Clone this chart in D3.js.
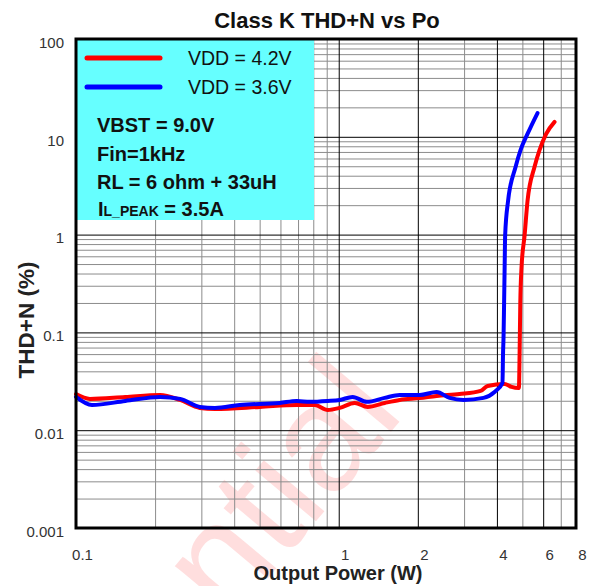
<!DOCTYPE html>
<html>
<head>
<meta charset="utf-8">
<script src="https://cdn.jsdelivr.net/npm/d3@7"></script>
<style>
  html, body { margin: 0; padding: 0; background: #fff; }
  svg { display: block; }
  text { font-family: Arial, "Liberation Sans", sans-serif; }
</style>
</head>
<body>
<svg id="chart" width="595" height="586"></svg>
<script>
// Output power (W) and THD+N (%) for each supply voltage
const powerVdd42 = [0.100, 0.113, 0.154, 0.209, 0.249, 0.296, 0.338, 0.501, 0.692, 0.810, 0.908, 1.009, 1.150, 1.289, 1.496, 1.706, 2.032, 2.359, 2.884, 3.467, 3.686, 4.277, 4.548, 4.85, 4.88, 4.91, 4.96, 5.10, 5.23, 5.56, 5.81, 6.16, 6.63];
const thdVdd42   = [0.0234, 0.0209, 0.0219, 0.0229, 0.0204, 0.0169, 0.0165, 0.0173, 0.0181, 0.0181, 0.0161, 0.0169, 0.0190, 0.0173, 0.0190, 0.0204, 0.0213, 0.0224, 0.0234, 0.0252, 0.0283, 0.0297, 0.0277, 0.0270, 0.06, 0.2, 0.45, 0.99, 2.2, 4.9, 7.3, 10.7, 14.2];

const powerVdd36 = [0.100, 0.115, 0.154, 0.209, 0.249, 0.296, 0.338, 0.420, 0.597, 0.692, 0.776, 0.908, 1.009, 1.130, 1.278, 1.496, 1.706, 2.032, 2.359, 2.643, 2.988, 3.558, 3.919, 4.20, 4.22, 4.24, 4.26, 4.28, 4.30, 4.41, 4.71, 4.92, 5.23, 5.71];
const thdVdd36   = [0.0219, 0.0181, 0.0199, 0.0219, 0.0209, 0.0173, 0.0169, 0.0181, 0.0190, 0.0199, 0.0195, 0.0199, 0.0204, 0.0219, 0.0195, 0.0214, 0.0229, 0.0229, 0.0246, 0.0214, 0.0204, 0.0214, 0.0246, 0.0304, 0.06, 0.092, 0.2, 0.455, 0.99, 2.2, 4.9, 7.3, 10.7, 17.5];

const seriesNames  = ["VDD = 4.2V", "VDD = 3.6V"];
const seriesColors = ["#ff0000", "#0000ff"];

const xTickValues = [0.1, 1, 2, 4, 6, 8];
const xTickLabels = ["0.1", "1", "2", "4", "6", "8"];
const xMajorGrid  = [1, 2, 4, 6];
const xMinorGrid  = [0.2, 0.3, 0.4, 0.5, 0.6, 0.7, 0.8, 0.9, 3, 5, 7];

const yTickValues = [0.001, 0.01, 0.1, 1, 10, 100];
const yTickLabels = ["0.001", "0.01", "0.1", "1", "10", "100"];

const conditions = ["VBST = 9.0V", "Fin=1kHz", "RL = 6 ohm + 33uH"];

// ---- layout ----
const svg = d3.select("#chart");
const plotLeft = 76, plotRight = 576, plotTop = 39, plotBottom = 528;
const plotW = plotRight - plotLeft, plotH = plotBottom - plotTop;

const x = d3.scaleLog().domain([0.1, 8]).range([plotLeft, plotRight]);
const y = d3.scaleLog().domain([0.001, 100]).range([plotBottom, plotTop]);

// y minor grid values: 2..9 within each decade
const yMajorGrid = yTickValues.slice(1, -1);
const yMinorGrid = [];
for (let e = -3; e < 2; e++) for (let k = 2; k <= 9; k++) yMinorGrid.push(k * Math.pow(10, e));

// watermark (behind everything)
svg.append("text")
  .attr("transform", "translate(406,414) rotate(-50)")
  .attr("text-anchor", "end")
  .attr("font-size", 150)
  .attr("fill", "#ff0000")
  .attr("fill-opacity", 0.13)
  .text("Confidential");

// grid lines drawn as tick-only axes
function grid(g, axis, color) {
  g.call(axis);
  g.select(".domain").remove();
  g.selectAll(".tick line").attr("stroke", color).attr("stroke-width", 1);
  g.selectAll(".tick text").remove();
}
svg.append("g").attr("transform", `translate(0,${plotBottom})`)
  .call(g => grid(g, d3.axisBottom(x).tickValues(xMinorGrid).tickSize(-plotH), "#8c8c8c"));
svg.append("g").attr("transform", `translate(${plotLeft},0)`)
  .call(g => grid(g, d3.axisLeft(y).tickValues(yMinorGrid).tickSize(-plotW), "#8c8c8c"));
svg.append("g").attr("transform", `translate(0,${plotBottom})`)
  .call(g => grid(g, d3.axisBottom(x).tickValues(xMajorGrid).tickSize(-plotH), "#000"));
svg.append("g").attr("transform", `translate(${plotLeft},0)`)
  .call(g => grid(g, d3.axisLeft(y).tickValues(yMajorGrid).tickSize(-plotW), "#000"));

// legend / conditions panel
const panel = svg.append("g");
panel.append("rect")
  .attr("x", plotLeft).attr("y", plotTop).attr("width", 238).attr("height", 181)
  .attr("fill", "#66ffff");

// curves
const line = d3.line()
  .x(d => x(d[0])).y(d => y(d[1]))
  .curve(d3.curveMonotoneX);
const series = [
  d3.zip(powerVdd42, thdVdd42),
  d3.zip(powerVdd36, thdVdd36)
];
svg.append("g").selectAll("path").data(series).join("path")
  .attr("d", line)
  .attr("fill", "none")
  .attr("stroke", (d, i) => seriesColors[i])
  .attr("stroke-width", 4)
  .attr("stroke-linejoin", "round")
  .attr("stroke-linecap", "round");

// legend entries
seriesNames.forEach((name, i) => {
  const cy = 58 + i * 29;
  panel.append("line")
    .attr("x1", 87).attr("x2", 160).attr("y1", cy).attr("y2", cy)
    .attr("stroke", seriesColors[i]).attr("stroke-width", 5).attr("stroke-linecap", "round");
  panel.append("text")
    .attr("x", 188).attr("y", cy + 7)
    .attr("font-size", 19.5).attr("fill", "#111")
    .text(name);
});
conditions.forEach((t, i) => {
  panel.append("text")
    .attr("x", 97).attr("y", 132 + i * 28.5)
    .attr("font-size", 20).attr("font-weight", "bold").attr("fill", "#111")
    .text(t);
});
const peak = panel.append("text")
  .attr("x", 98).attr("y", 215.5)
  .attr("font-weight", "bold").attr("fill", "#111");
peak.append("tspan").attr("font-size", 20).text("I");
peak.append("tspan").attr("font-size", 14).text("L_PEAK");
peak.append("tspan").attr("font-size", 20).text(" = 3.5A");

// plot frame
svg.append("rect")
  .attr("x", plotLeft).attr("y", plotTop).attr("width", plotW).attr("height", plotH)
  .attr("fill", "none").attr("stroke", "#000").attr("stroke-width", 3);

// tick labels via axes
const xAxis = svg.append("g").attr("transform", `translate(0,${plotBottom})`)
  .call(d3.axisBottom(x).tickValues(xTickValues).tickSize(0).tickPadding(21)
    .tickFormat((d, i) => xTickLabels[i]));
xAxis.select(".domain").remove();
xAxis.selectAll("text")
  .attr("font-size", 15).attr("fill", "#333")
  .attr("font-family", "Arial, 'Liberation Sans', sans-serif")
  .attr("dx", 6);

const yAxis = svg.append("g").attr("transform", `translate(${plotLeft},0)`)
  .call(d3.axisLeft(y).tickValues(yTickValues).tickSize(0).tickPadding(12)
    .tickFormat((d, i) => yTickLabels[i]));
yAxis.select(".domain").remove();
yAxis.selectAll("text")
  .attr("font-size", 15).attr("fill", "#333")
  .attr("font-family", "Arial, 'Liberation Sans', sans-serif")
  .attr("dy", "0.55em");

// titles
svg.append("text")
  .attr("x", 327).attr("y", 28).attr("text-anchor", "middle")
  .attr("font-size", 22).attr("font-weight", "bold").attr("fill", "#111")
  .text("Class K THD+N vs Po");
svg.append("text")
  .attr("x", 338).attr("y", 580).attr("text-anchor", "middle")
  .attr("font-size", 20).attr("font-weight", "bold").attr("fill", "#222")
  .text("Output Power (W)");
svg.append("text")
  .attr("transform", "translate(34,320) rotate(-90)").attr("text-anchor", "middle")
  .attr("font-size", 22.5).attr("font-weight", "bold").attr("fill", "#222")
  .text("THD+N (%)");
</script>
</body>
</html>
